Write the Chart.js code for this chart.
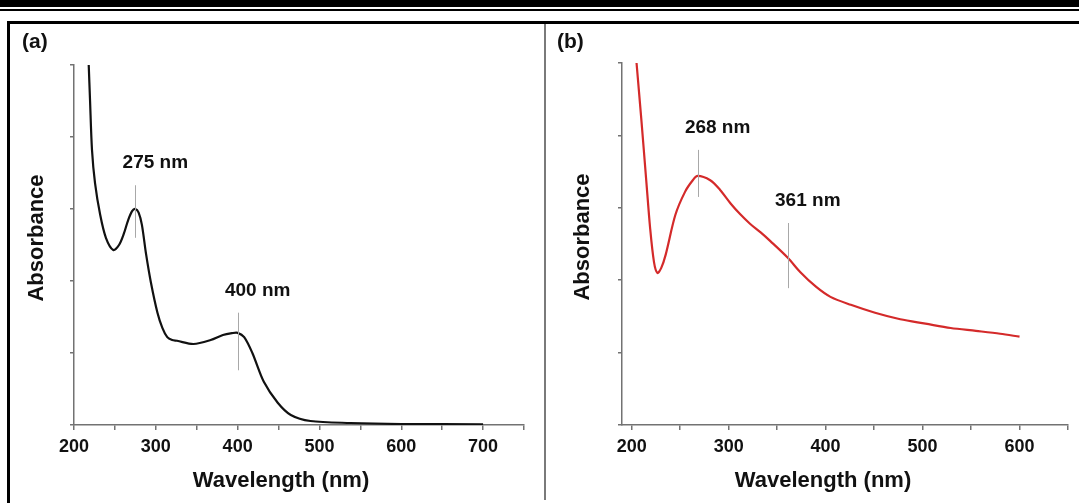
<!DOCTYPE html>
<html>
<head>
<meta charset="utf-8">
<script src="https://cdn.jsdelivr.net/npm/chart.js@4/dist/chart.umd.min.js"></script>
<style>
  html, body { margin: 0; padding: 0; background: #fff; }
  body { width: 1079px; height: 503px; position: relative; overflow: hidden; }
  .rule { position: absolute; background: #000; }
  #panelA { position: absolute; left: 12px; top: 25px; width: 530px; height: 478px; }
  #panelB { position: absolute; left: 548px; top: 25px; width: 531px; height: 478px; }
</style>
</head>
<body>
<div class="rule" style="left:0;top:0;width:1079px;height:7px"></div>
<div class="rule" style="left:0;top:9px;width:1079px;height:2px"></div>
<div class="rule" style="left:7px;top:21px;width:1072px;height:3px"></div>
<div class="rule" style="left:7px;top:21px;width:3px;height:482px"></div>
<div class="rule" style="left:544px;top:24px;width:2px;height:476px;background:#7a7a7a"></div>
<div id="panelA"><canvas id="chartA"></canvas></div>
<div id="panelB"><canvas id="chartB"></canvas></div>
<script>
// Panel (a): UV-vis spectrum, black trace
const wavelengthA = [218, 219.6, 222, 225.7, 232, 239, 248, 255, 261, 266, 271, 275, 279, 283, 288, 294, 302, 308, 314, 320, 326, 346, 367, 382, 393, 400, 408, 418, 432, 449, 465, 489, 538, 600, 700];
const absorbanceA = [5.00, 4.51, 3.82, 3.36, 2.92, 2.60, 2.43, 2.50, 2.66, 2.84, 2.97, 3.00, 2.95, 2.78, 2.38, 1.98, 1.56, 1.35, 1.22, 1.18, 1.17, 1.125, 1.18, 1.25, 1.275, 1.28, 1.22, 1.00, 0.60, 0.31, 0.14, 0.056, 0.028, 0.014, 0.01];
const xTicksA = [200, 250, 300, 350, 400, 450, 500, 550, 600, 650, 700, 750];
const peaksA = [275, 400];
const peakSpanA = [[2.60, 3.33], [0.76, 1.56]];

// Panel (b): UV-vis spectrum, red trace
const wavelengthB = [205, 210, 215, 219, 223, 226.5, 230.5, 235, 245, 255, 263, 268, 281, 291, 302, 312, 322, 333, 343, 361, 374, 390, 405, 426, 451, 477, 503, 529, 555, 580, 600];
const absorbanceB = [5.00, 4.21, 3.38, 2.72, 2.25, 2.10, 2.17, 2.35, 2.90, 3.22, 3.38, 3.44, 3.38, 3.25, 3.06, 2.91, 2.78, 2.66, 2.54, 2.31, 2.11, 1.91, 1.77, 1.66, 1.55, 1.46, 1.40, 1.34, 1.30, 1.26, 1.22];
const xTicksB = [200, 250, 300, 350, 400, 450, 500, 550, 600, 650];
const peaksB = [268, 361];
const peakSpanB = [[3.15, 3.80], [1.89, 2.79]];

const FONT = 'Liberation Sans, Arial, Helvetica, sans-serif';
const AXIS_GREY = '#727272';

// Draws the panel letter, axis titles and the peak markers with their labels.
const panelText = {
  id: 'panelText',
  afterDraw(chart, args, opts) {
    const ctx = chart.ctx;
    const xs = chart.scales.x, ys = chart.scales.y;
    ctx.save();
    ctx.fillStyle = '#111';
    ctx.textBaseline = 'middle';

    ctx.font = 'bold 21px ' + FONT;
    ctx.textAlign = 'left';
    ctx.fillText(opts.letter, opts.letterX, 17);

    ctx.font = 'bold 22px ' + FONT;
    ctx.textAlign = 'center';
    ctx.fillText('Wavelength (nm)', xs.left + opts.xTitleShift, 456);

    ctx.save();
    ctx.translate(opts.yTitleX, (ys.top + ys.bottom) / 2 - 7);
    ctx.rotate(-Math.PI / 2);
    ctx.fillText('Absorbance', 0, 0);
    ctx.restore();

    opts.peaks.forEach((nm, i) => {
      const px = xs.getPixelForValue(nm);
      const yTop = ys.getPixelForValue(opts.spans[i][1]);
      const yBot = ys.getPixelForValue(opts.spans[i][0]);
      ctx.strokeStyle = '#a8a8a8';
      ctx.lineWidth = 1;
      ctx.beginPath();
      ctx.moveTo(Math.round(px) + 0.5, yTop);
      ctx.lineTo(Math.round(px) + 0.5, yBot);
      ctx.stroke();
      ctx.font = 'bold 19px ' + FONT;
      ctx.textAlign = 'center';
      ctx.fillText(nm + ' nm', px + 20, yTop - 22);
    });
    ctx.restore();
  }
};

function makePanel(id, p) {
  return new Chart(document.getElementById(id), {
    type: 'line',
    data: {
      datasets: [{
        data: p.wl.map((w, i) => ({ x: w, y: p.ab[i] })),
        borderColor: p.color,
        borderWidth: 2.2,
        pointRadius: 0,
        fill: false,
        tension: 0.3
      }]
    },
    options: {
      animation: false,
      responsive: true,
      maintainAspectRatio: false,
      layout: { padding: { top: p.padTop, right: p.padRight, left: 0, bottom: 0 } },
      plugins: {
        legend: { display: false },
        tooltip: { enabled: false },
        panelText: {
          letter: p.letter, letterX: p.letterX,
          xTitleShift: p.xTitleShift, yTitleX: p.yTitleX,
          peaks: p.peaks, spans: p.spans
        }
      },
      scales: {
        x: {
          type: 'linear',
          min: p.xMin, max: p.xMax,
          afterBuildTicks: (ax) => { ax.ticks = p.xTicks.map(v => ({ value: v })); },
          afterFit: (s) => { s.height = 78; },
          ticks: {
            autoSkip: false, maxRotation: 0, padding: 6, color: '#111',
            font: { family: FONT, size: 18, weight: 'bold' },
            callback: (v) => (v % 100 === 0 ? String(v) : '')
          },
          grid: { drawOnChartArea: false, drawTicks: true, tickLength: 5, color: AXIS_GREY, lineWidth: 1.5 },
          border: { display: true, color: AXIS_GREY, width: 1.5 }
        },
        y: {
          min: 0, max: 5,
          afterFit: (s) => { s.width = p.yWidth; },
          ticks: { stepSize: 1, callback: () => '' },
          grid: { drawOnChartArea: false, drawTicks: true, tickLength: 4, color: AXIS_GREY, lineWidth: 1.5 },
          border: { display: true, color: AXIS_GREY, width: 1.5 }
        }
      }
    },
    plugins: [panelText]
  });
}

makePanel('chartA', {
  wl: wavelengthA, ab: absorbanceA, color: '#111111',
  xMin: 200, xMax: 750, xTicks: xTicksA,
  padTop: 40, padRight: 18, yWidth: 62,
  letter: '(a)', letterX: 10, xTitleShift: 207, yTitleX: 25,
  peaks: peaksA, spans: peakSpanA
});

makePanel('chartB', {
  wl: wavelengthB, ab: absorbanceB, color: '#d42a2a',
  xMin: 190, xMax: 650, xTicks: xTicksB,
  padTop: 38, padRight: 11, yWidth: 74,
  letter: '(b)', letterX: 9, xTitleShift: 201, yTitleX: 35,
  peaks: peaksB, spans: peakSpanB
});
</script>
</body>
</html>
